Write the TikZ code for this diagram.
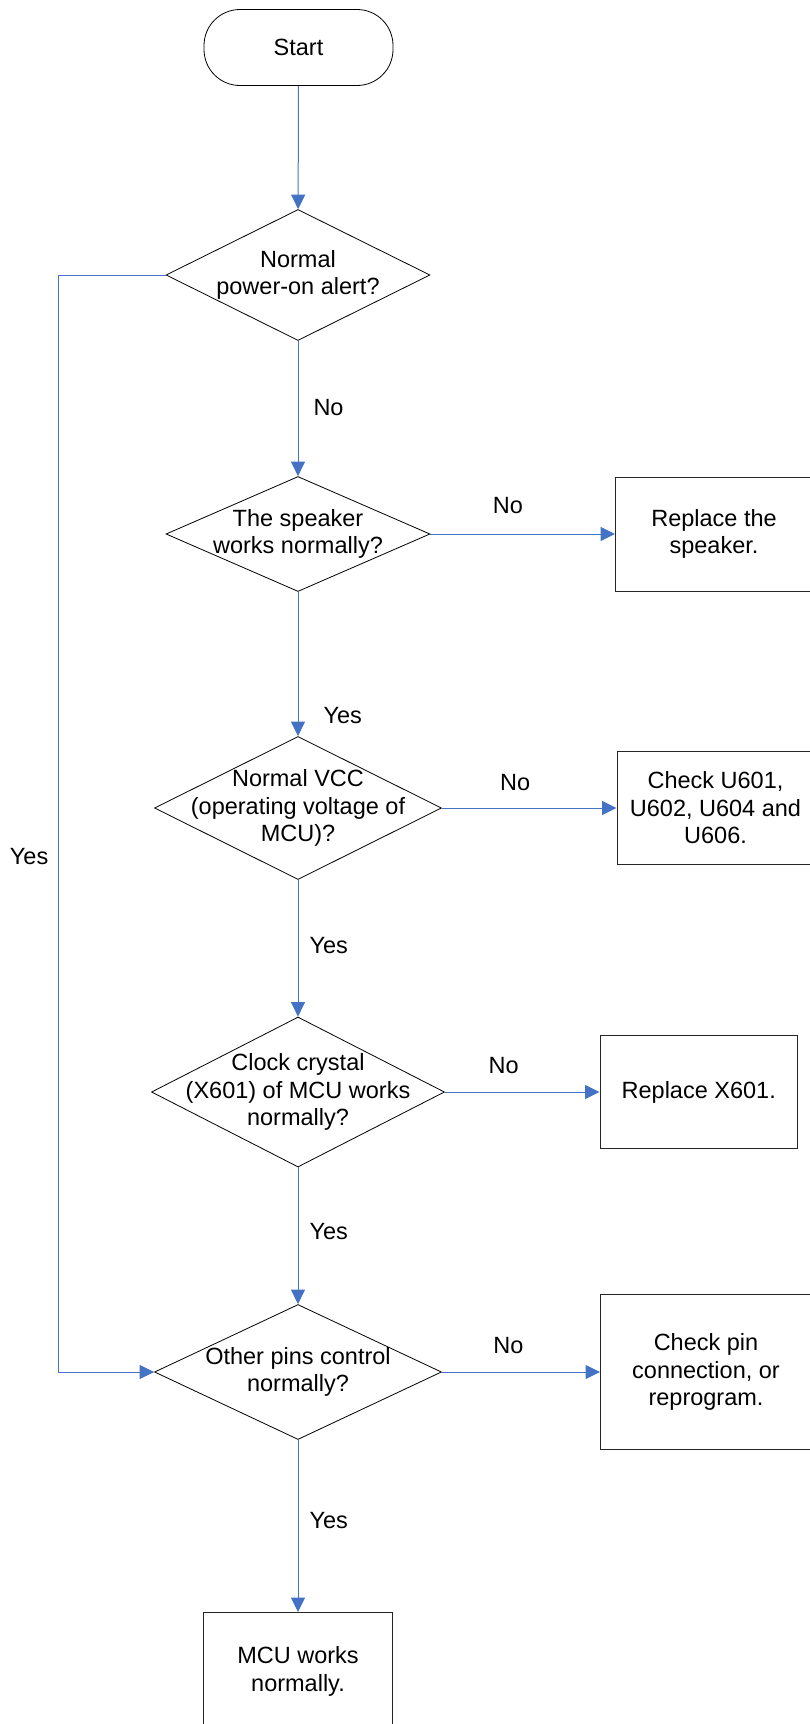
\documentclass[tikz,border=0pt]{standalone}
\usepackage{fontspec}
\setmainfont{Liberation Sans}
\usetikzlibrary{shapes.geometric, arrows.meta, positioning}

\definecolor{flowblue}{RGB}{68,114,196}

\begin{document}
\begin{tikzpicture}[x=1pt, y=-1pt,
    every node/.style={font=\fontsize{23.5}{27.5}\selectfont, text=black, align=center, inner sep=0pt},
    terminal/.style={draw=black, shape=rectangle, rounded corners=36pt, line width=0.8pt},
    decision/.style={draw=black, shape=diamond, line width=0.8pt},
    process/.style={draw=black!85, shape=rectangle, line width=1pt},
    flow/.style={color=flowblue, line width=1pt, -{Triangle[length=14.5pt,width=14pt]}}]

    \useasboundingbox (0,0) rectangle (810,1724);
    \clip (0,0) rectangle (810,1724);

    % Define the main column (start, decisions, end)
    \node[terminal, minimum width=189pt, minimum height=76pt] (start) at (298.5,47.5) {Start};
    \node[decision, minimum width=264pt, minimum height=131pt] (d1) at (298,275) {};
    \node[decision, minimum width=264pt, minimum height=115pt] (d2) at (298,534) {};
    \node[decision, minimum width=287pt, minimum height=143pt] (d3) at (298,808) {};
    \node[decision, minimum width=293pt, minimum height=150pt] (d4) at (298,1092) {};
    \node[decision, minimum width=287pt, minimum height=135pt] (d5) at (298,1372) {};
    \node[process, minimum width=189.5pt, minimum height=118pt] (mcuok) at (298,1671.5) {MCU works\\normally.};

    % Texts of the decisions
    \node (d1text) at (d1) {Normal\\power-on alert?};
    \node (d2text) at (d2) {The speaker\\works normally?};
    \node (d3text) at (d3) {Normal VCC\\(operating voltage of\\MCU)?};
    \node (d4text) at (d4) {Clock crystal\\(X601) of MCU works\\normally?};
    \node (d5text) at (d5) {Other pins control\\normally?};

    % Define the repair boxes on the right
    \node[process, minimum width=197pt, minimum height=114pt] (speaker) at (714,534) {Replace the\\speaker.};
    \node[process, minimum width=197pt, minimum height=113pt] (checku) at (715.5,808) {Check U601,\\U602, U604 and\\U606.};
    \node[process, minimum width=197.5pt, minimum height=113pt] (crystal) at (698.75,1092) {Replace X601.};
    \node[process, minimum width=211pt, minimum height=155pt] (pins) at (706,1372) {Check pin\\connection, or\\reprogram.};

    % Define the transitions
    \path[flow]
    (start) edge (d1)
    (d1) edge node[pos=0.49, anchor=west, xshift=15pt] (no1) {No} (d2)
    (d2) edge node[pos=0.42, yshift=28pt] (no2) {No} (speaker)
    (d2) edge node[pos=0.86, anchor=west, xshift=25pt] (yes2) {Yes} (d3)
    (d3) edge node[pos=0.42, yshift=25pt] (no3) {No} (checku)
    (d3) edge node[pos=0.48, anchor=west, xshift=11pt] (yes3) {Yes} (d4)
    (d4) edge node[pos=0.38, yshift=26pt] (no4) {No} (crystal)
    (d4) edge node[pos=0.47, anchor=west, xshift=11pt] (yes4) {Yes} (d5)
    (d5) edge node[pos=0.42, yshift=26pt] (no5) {No} (pins)
    (d5) edge node[pos=0.47, anchor=west, xshift=11pt] (yes5) {Yes} (mcuok);

    % Yes branch of the first decision
    \coordinate (yesline) at (58.5,856.5);
    \draw[flow] (d1.west) -| (yesline) |- (d5.west);
    \node[left=10pt of yesline] (yes1) {Yes};

\end{tikzpicture}
\end{document}
